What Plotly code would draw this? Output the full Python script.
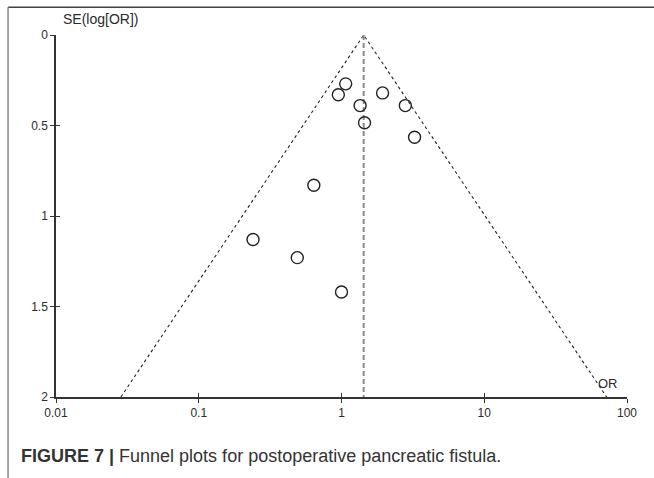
import plotly.graph_objects as go

# study estimates
study_or = [1.07, 0.95, 1.94, 1.35, 2.80, 1.45, 3.25, 0.64, 0.24, 0.49, 1.00]
study_se = [0.27, 0.33, 0.32, 0.39, 0.39, 0.485, 0.565, 0.83, 1.13, 1.23, 1.42]

# pooled estimate and pseudo 95% confidence limits
pooled_or = 1.43
funnel_or = [0.0285, 1.43, 72.0]
funnel_se = [2.0, 0.0, 2.0]
pooled_se = [0.0, 2.0]

x_ticks = [0.01, 0.1, 1, 10, 100]
x_labels = ["0.01", "0.1", "1", "10", "100"]
y_ticks = [0, 0.5, 1, 1.5, 2]
y_labels = ["0", "0.5", "1", "1.5", "2"]

FONT = "Liberation Sans, Arial, sans-serif"
INK = "#2b2b2b"

fig = go.Figure()

fig.add_trace(go.Scatter(
    x=funnel_or, y=funnel_se, mode="lines",
    line=dict(color="#222222", width=1.1, dash="3px,3px"),
    hoverinfo="skip", showlegend=False,
))
fig.add_trace(go.Scatter(
    x=[pooled_or, pooled_or], y=pooled_se, mode="lines",
    line=dict(color="#8a8a8a", width=2, dash="5px,3px"),
    hoverinfo="skip", showlegend=False,
))
fig.add_trace(go.Scatter(
    x=study_or, y=study_se, mode="markers",
    marker=dict(symbol="circle-open", size=12, color="#222222", line=dict(width=1.4)),
    showlegend=False,
))

axis_common = dict(showgrid=False, zeroline=False, showline=True,
                   linecolor="#333333", linewidth=1.5, tickcolor="#333333",
                   tickwidth=1.3, ticklen=4)
tick_font = dict(family=FONT, size=12, color=INK)

fig.update_layout(
    width=654, height=478,
    margin=dict(l=56, r=27, t=35, b=81),
    paper_bgcolor="white", plot_bgcolor="white",
    xaxis=dict(type="log", range=[-2, 2], tickvals=x_ticks, ticktext=x_labels,
               ticks="outside", tickfont=tick_font, **axis_common),
    yaxis=dict(range=[2, 0], tickvals=y_ticks, ticktext=y_labels,
               ticks="outside", tickfont=tick_font, **axis_common),
    # second pair of axes so the tick marks cross the axis lines
    xaxis2=dict(type="log", range=[-2, 2], tickvals=x_ticks, ticks="inside",
                showticklabels=False, overlaying="x", anchor="y", side="bottom",
                **axis_common),
    yaxis2=dict(range=[2, 0], tickvals=y_ticks, ticks="inside",
                showticklabels=False, overlaying="y", anchor="x", side="left",
                **axis_common),
    showlegend=False,
)
# invisible trace so the extra axes are drawn
fig.add_trace(go.Scatter(x=[1], y=[1], xaxis="x2", yaxis="y2", mode="markers",
                         marker=dict(opacity=0), hoverinfo="skip", showlegend=False))

fig.add_annotation(text="SE(log[OR])", xref="paper", yref="paper",
                   x=0.009, y=1.045, xanchor="left", yanchor="middle", showarrow=False,
                   font=dict(family=FONT, size=14, color=INK))
fig.add_annotation(text="OR", xref="paper", yref="paper",
                   x=0.945, y=0.012, xanchor="left", yanchor="bottom", showarrow=False,
                   font=dict(family=FONT, size=13, color=INK))
fig.add_annotation(text="<b>FIGURE 7 |</b> Funnel plots for postoperative pancreatic fistula.",
                   xref="paper", yref="paper", x=-0.064, y=-0.163,
                   xanchor="left", yanchor="middle", showarrow=False,
                   font=dict(family=FONT, size=18, color="#333333"))

# page frame (top and left rules)
fig.add_shape(type="line", xref="paper", yref="paper", x0=-0.084, x1=1.06,
              y0=1.077, y1=1.077, line=dict(color="#444444", width=1.5))
fig.add_shape(type="line", xref="paper", yref="paper", x0=-0.084, x1=-0.084,
              y0=1.077, y1=-0.25, line=dict(color="#888888", width=1.5))

fig.write_html("out.html", config={"displayModeBar": False},
               post_script="document.body.style.margin='0px';")
